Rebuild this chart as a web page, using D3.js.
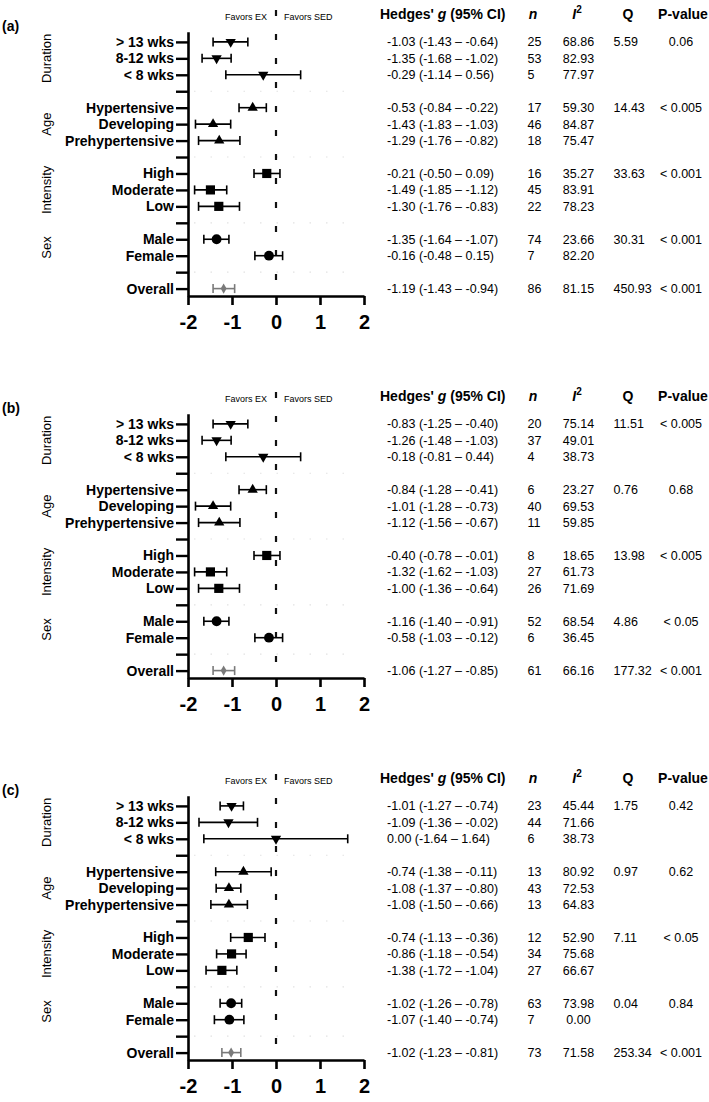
<!DOCTYPE html>
<html>
<head>
<meta charset="utf-8">
<script src="https://cdn.jsdelivr.net/npm/d3@7"></script>
<style>
  body { margin: 0; background: #fff; }
  svg { display: block; font-family: "Liberation Sans", Arial, Helvetica, sans-serif; }
</style>
</head>
<body>
<div id="chart"></div>
<script>
// Rows of the forest plot, top to bottom
const categories = ["> 13 wks", "8-12 wks", "< 8 wks",
  "Hypertensive", "Developing", "Prehypertensive",
  "High", "Moderate", "Low",
  "Male", "Female", "Overall"];
const groups = ["Duration", "Age", "Intensity", "Sex"];
const groupOf = [0, 0, 0, 1, 1, 1, 2, 2, 2, 3, 3, null];
const shapes = ["down", "down", "down", "up", "up", "up", "square", "square", "square", "circle", "circle", "diamond"];
const panelLabels = ["(a)", "(b)", "(c)"];
const xTicks = [-2, -1, 0, 1, 2];

// Plotted estimates (as drawn in each panel)
const plotEstA = [-1.03, -1.35, -0.29, -0.53, -1.43, -1.29, -0.21, -1.49, -1.30, -1.35, -0.16, -1.19];
const plotLoA  = [-1.43, -1.68, -1.14, -0.84, -1.83, -1.76, -0.50, -1.85, -1.76, -1.64, -0.48, -1.43];
const plotHiA  = [-0.64, -1.02, 0.56, -0.22, -1.03, -0.82, 0.09, -1.12, -0.83, -1.07, 0.15, -0.94];
const plotEstB = [-1.03, -1.35, -0.29, -0.53, -1.43, -1.29, -0.21, -1.49, -1.30, -1.35, -0.16, -1.19];
const plotLoB  = [-1.43, -1.68, -1.14, -0.84, -1.83, -1.76, -0.50, -1.85, -1.76, -1.64, -0.48, -1.43];
const plotHiB  = [-0.64, -1.02, 0.56, -0.22, -1.03, -0.82, 0.09, -1.12, -0.83, -1.07, 0.15, -0.94];
const plotEstC = [-1.01, -1.08, 0.00, -0.74, -1.07, -1.07, -0.63, -1.01, -1.23, -1.02, -1.06, -1.02];
const plotLoC  = [-1.27, -1.75, -1.64, -1.37, -1.36, -1.48, -1.03, -1.35, -1.59, -1.27, -1.40, -1.23];
const plotHiC  = [-0.74, -0.42, 1.63, -0.11, -0.80, -0.65, -0.25, -0.68, -0.89, -0.78, -0.73, -0.80];

// Table values
const gA  = [-1.03, -1.35, -0.29, -0.53, -1.43, -1.29, -0.21, -1.49, -1.30, -1.35, -0.16, -1.19];
const loA = [-1.43, -1.68, -1.14, -0.84, -1.83, -1.76, -0.50, -1.85, -1.76, -1.64, -0.48, -1.43];
const hiA = [-0.64, -1.02, 0.56, -0.22, -1.03, -0.82, 0.09, -1.12, -0.83, -1.07, 0.15, -0.94];
const nA  = [25, 53, 5, 17, 46, 18, 16, 45, 22, 74, 7, 86];
const i2A = [68.86, 82.93, 77.97, 59.30, 84.87, 75.47, 35.27, 83.91, 78.23, 23.66, 82.20, 81.15];
const qA  = [5.59, 14.43, 33.63, 30.31, 450.93];
const pA  = ["0.06", "< 0.005", "< 0.001", "< 0.001", "< 0.001"];

const gB  = [-0.83, -1.26, -0.18, -0.84, -1.01, -1.12, -0.40, -1.32, -1.00, -1.16, -0.58, -1.06];
const loB = [-1.25, -1.48, -0.81, -1.28, -1.28, -1.56, -0.78, -1.62, -1.36, -1.40, -1.03, -1.27];
const hiB = [-0.40, -1.03, 0.44, -0.41, -0.73, -0.67, -0.01, -1.03, -0.64, -0.91, -0.12, -0.85];
const nB  = [20, 37, 4, 6, 40, 11, 8, 27, 26, 52, 6, 61];
const i2B = [75.14, 49.01, 38.73, 23.27, 69.53, 59.85, 18.65, 61.73, 71.69, 68.54, 36.45, 66.16];
const qB  = [11.51, 0.76, 13.98, 4.86, 177.32];
const pB  = ["< 0.005", "0.68", "< 0.005", "< 0.05", "< 0.001"];

const gC  = [-1.01, -1.09, 0.00, -0.74, -1.08, -1.08, -0.74, -0.86, -1.38, -1.02, -1.07, -1.02];
const loC = [-1.27, -1.36, -1.64, -1.38, -1.37, -1.50, -1.13, -1.18, -1.72, -1.26, -1.40, -1.23];
const hiC = [-0.74, -0.02, 1.64, -0.11, -0.80, -0.66, -0.36, -0.54, -1.04, -0.78, -0.74, -0.81];
const nC  = [23, 44, 6, 13, 43, 13, 12, 34, 27, 63, 7, 73];
const i2C = [45.44, 71.66, 38.73, 80.92, 72.53, 64.83, 52.90, 75.68, 66.67, 73.98, 0.00, 71.58];
const qC  = [1.75, 0.97, 7.11, 0.04, 253.34];
const pC  = ["0.42", "0.62", "< 0.05", "0.84", "< 0.001"];

const panels = [
  { est: plotEstA, lo: plotLoA, hi: plotHiA, g: gA, gl: loA, gh: hiA, n: nA, i2: i2A, q: qA, p: pA },
  { est: plotEstB, lo: plotLoB, hi: plotHiB, g: gB, gl: loB, gh: hiB, n: nB, i2: i2B, q: qB, p: pB },
  { est: plotEstC, lo: plotLoC, hi: plotHiC, g: gC, gl: loC, gh: hiC, n: nC, i2: i2C, q: qC, p: pC }
];

// slot index for each row: one empty slot after each group
const slots = [];
let s = 0;
categories.forEach((c, i) => {
  if (i > 0 && groupOf[i] !== groupOf[i - 1]) s += 1;
  slots.push(s);
  s += 1;
});
const sepSlots = d3.range(0, s).filter(k => !slots.includes(k));
const allSlots = d3.range(0, s);
const slotLabel = k => { const i = slots.indexOf(k); return i >= 0 ? categories[i] : ""; };

const width = 709, height = 1102, panelStep = 382;
const fmt = v => v.toFixed(2);

const svg = d3.select("#chart").append("svg")
  .attr("width", width)
  .attr("height", height);

const x = d3.scaleLinear().domain([-2, 2]).range([188, 364]);
const y = d3.scaleLinear().domain([-0.62, s - 0.55]).range([31.7, 296]);

const symbolFor = {
  down: d3.symbol().type(d3.symbolTriangle).size(46),
  up: d3.symbol().type(d3.symbolTriangle).size(46),
  square: d3.symbol().type(d3.symbolSquare).size(84),
  circle: d3.symbol().type(d3.symbolCircle).size(76),
  diamond: d3.symbol().type(d3.symbolDiamond).size(30)
};

panels.forEach((d, pi) => {
  const g = svg.append("g").attr("transform", `translate(0,${pi * panelStep})`);

  // panel letter
  g.append("text").attr("x", 2).attr("y", 31)
    .style("font-size", "14px").style("font-weight", "bold")
    .text(panelLabels[pi]);

  // faint dotted lines between groups
  g.append("g").selectAll("line")
    .data(sepSlots)
    .join("line")
    .attr("x1", x(-2) + 6).attr("x2", x(2) - 6)
    .attr("y1", k => y(k)).attr("y2", k => y(k))
    .attr("stroke", "#e2e2e2")
    .attr("stroke-width", 1.2)
    .attr("stroke-dasharray", "1.5,15");

  // zero line
  g.append("line")
    .attr("x1", x(0)).attr("x2", x(0))
    .attr("y1", 10).attr("y2", y.range()[1])
    .attr("stroke", "#111")
    .attr("stroke-width", 2.2)
    .attr("stroke-dasharray", "6,18");

  g.append("text").attr("x", x(0) - 9).attr("y", 19.5)
    .attr("text-anchor", "end").style("font-size", "9px")
    .text("Favors EX");
  g.append("text").attr("x", x(0) + 8).attr("y", 19.5)
    .style("font-size", "9px")
    .text("Favors SED");

  // left axis with row labels
  const yAxis = g.append("g")
    .attr("transform", `translate(${x(-2)},0)`)
    .call(d3.axisLeft(y).tickValues(allSlots).tickFormat(slotLabel)
      .tickSize(12).tickSizeOuter(0).tickPadding(2));
  yAxis.select(".domain").attr("stroke-width", 2.6);
  yAxis.selectAll(".tick line").attr("stroke-width", 2.4);
  yAxis.selectAll(".tick text")
    .attr("fill", "#000")
    .style("font-size", "14px").style("font-weight", "bold")
    .style("font-family", "'Liberation Sans', Arial, sans-serif");

  // bottom axis
  const xAxis = g.append("g")
    .attr("transform", `translate(0,${y.range()[1]})`)
    .call(d3.axisBottom(x).tickValues(xTicks).tickFormat(v => String(v))
      .tickSize(9).tickSizeOuter(0).tickPadding(10));
  xAxis.select(".domain").attr("stroke-width", 2.6);
  xAxis.selectAll(".tick line").attr("stroke-width", 2.6);
  xAxis.selectAll(".tick text")
    .attr("fill", "#000")
    .style("font-size", "20px").style("font-weight", "bold")
    .style("font-family", "'Liberation Sans', Arial, sans-serif");

  // group titles
  groups.forEach((name, gi) => {
    const rows = slots.filter((k, i) => groupOf[i] === gi);
    const cy = (y(d3.min(rows)) + y(d3.max(rows))) / 2;
    g.append("text")
      .attr("transform", `translate(51,${cy}) rotate(-90)`)
      .attr("text-anchor", "middle")
      .style("font-size", "13px")
      .text(name);
  });

  // error bars and markers
  const rowsData = categories.map((c, i) => ({
    i, est: d.est[i], lo: d.lo[i], hi: d.hi[i], yy: y(slots[i]),
    color: shapes[i] === "diamond" ? "#7a7a7a" : "#000"
  }));
  const bars = g.append("g").selectAll("g")
    .data(rowsData)
    .join("g")
    .attr("stroke", r => r.color)
    .attr("stroke-width", 1.6);
  bars.append("line")
    .attr("x1", r => x(r.lo)).attr("x2", r => x(r.hi))
    .attr("y1", r => r.yy).attr("y2", r => r.yy);
  bars.append("line")
    .attr("x1", r => x(r.lo)).attr("x2", r => x(r.lo))
    .attr("y1", r => r.yy - 4.5).attr("y2", r => r.yy + 4.5);
  bars.append("line")
    .attr("x1", r => x(r.hi)).attr("x2", r => x(r.hi))
    .attr("y1", r => r.yy - 4.5).attr("y2", r => r.yy + 4.5);
  g.append("g").selectAll("path")
    .data(rowsData)
    .join("path")
    .attr("d", r => symbolFor[shapes[r.i]]())
    .attr("transform", r => `translate(${x(r.est)},${r.yy})` + (shapes[r.i] === "down" ? " rotate(180)" : ""))
    .attr("fill", r => r.color);

  // table header
  const head = g.append("g").style("font-size", "14px").style("font-weight", "bold");
  const h1 = head.append("text").attr("x", 380).attr("y", 18.5);
  h1.append("tspan").text("Hedges' ");
  h1.append("tspan").style("font-style", "italic").text("g");
  h1.append("tspan").text(" (95% CI)");
  head.append("text").attr("x", 533).attr("y", 18.5).attr("text-anchor", "middle")
    .style("font-style", "italic").text("n");
  const h3 = head.append("text").attr("x", 577).attr("y", 18.5).attr("text-anchor", "middle");
  h3.append("tspan").style("font-style", "italic").text("I");
  h3.append("tspan").attr("dy", -6).style("font-size", "10px").text("2");
  head.append("text").attr("x", 628).attr("y", 18.5).attr("text-anchor", "middle").text("Q");
  head.append("text").attr("x", 683).attr("y", 18.5).attr("text-anchor", "middle").text("P-value");

  // table rows
  const tbl = g.append("g").style("font-size", "12.5px");
  categories.forEach((c, i) => {
    const ty = y(slots[i]) + 4.5;
    tbl.append("text").attr("x", 387).attr("y", ty)
      .text(`${fmt(d.g[i])} (${fmt(d.gl[i])} \u2013 ${fmt(d.gh[i])})`);
    tbl.append("text").attr("x", 527.5).attr("y", ty).text(d.n[i]);
    tbl.append("text").attr("x", 578.5).attr("y", ty).attr("text-anchor", "middle").text(fmt(d.i2[i]));
    // Q and P only on the first row of each group and on Overall
    const gi = groupOf[i];
    const first = gi === null || groupOf.indexOf(gi) === i;
    if (first) {
      const k = gi === null ? groups.length : gi;
      tbl.append("text").attr("x", 613.5).attr("y", ty).text(fmt(d.q[k]));
      tbl.append("text").attr("x", 681).attr("y", ty).attr("text-anchor", "middle").text(d.p[k]);
    }
  });
});
</script>
</body>
</html>
